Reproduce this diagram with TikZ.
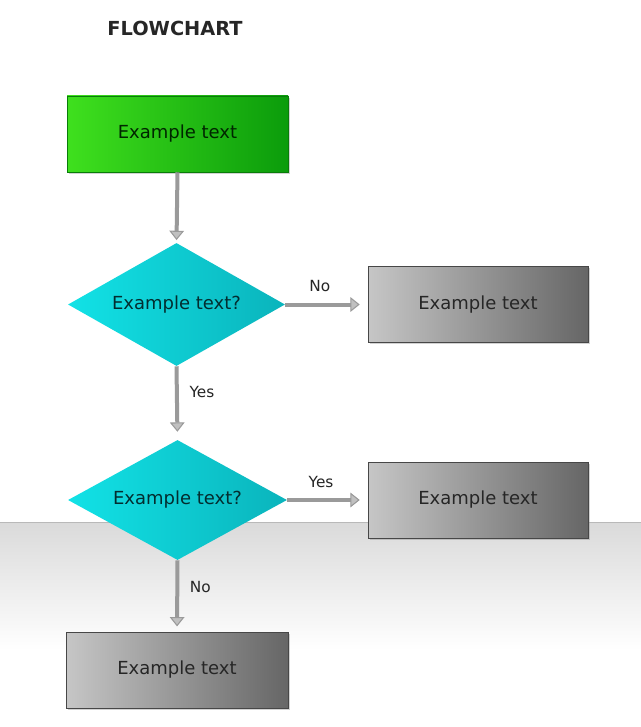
\documentclass[tikz,border=0pt]{standalone}
\usepackage{fontspec}
\setmainfont{DejaVu Sans}
\usetikzlibrary{shapes.geometric,arrows.meta,shadows}
\definecolor{greenL}{HTML}{3FE01E}
\definecolor{greenR}{HTML}{0B9C0B}
\definecolor{cyanL}{HTML}{12E2E6}
\definecolor{cyanR}{HTML}{0AB4BC}
\definecolor{grayL}{HTML}{C6C6C6}
\definecolor{grayM}{HTML}{9C9C9C}
\definecolor{grayR}{HTML}{666666}
\definecolor{arrowgray}{HTML}{9A9A9A}
\definecolor{tipgray}{HTML}{C0C0C0}
\definecolor{bandgray}{HTML}{DADADA}
\tikzset{
  boxbase/.style={rectangle, inner sep=0pt, font=\fontsize{13.5}{15}\selectfont,
    drop shadow={shadow xshift=1.2pt, shadow yshift=-1.2pt, opacity=0.35}},
  greenbox/.style={boxbase, left color=greenL, right color=greenR, draw=greenR!80!black, line width=0.4pt,
    minimum width=165.75pt, minimum height=57pt, text=black!85!green},
  graybox/.style={boxbase, left color=grayL, middle color=grayM, right color=grayR, draw=grayR!70!black, line width=0.4pt,
    minimum width=165pt, minimum height=57pt, text=black!85},
  decbox/.style={diamond, aspect=1.75, inner sep=0pt, left color=cyanL, right color=cyanR, draw=none},
  dectext/.style={font=\fontsize{13.5}{15}\selectfont, text=cyanR!25!black},
  flowarrow/.style={draw=arrowgray, line width=3pt,
    -{Triangle[width=11pt,length=7pt,line width=0.8pt,fill=tipgray]}},
  arrowlabel/.style={font=\fontsize{11.5}{13}\selectfont, text=black!85, inner sep=2pt},
}
\begin{document}
\begin{tikzpicture}[x=0.75pt,y=-0.75pt]
\useasboundingbox (0,0) rectangle (641,727);
\fill[white] (0,0) rectangle (641,727);
\shade[top color=bandgray, bottom color=white] (0,522) rectangle (641,650);
\draw[bandgray!85!black, line width=0.3pt] (0,522) -- (641,522);

\node[font=\bfseries\fontsize{14.5}{17}\selectfont, text=black!85] (title) at (175,28) {FLOWCHART};

\node[greenbox] (start) at (177.5,134) {Example text};

\node[decbox, minimum width=162.75pt, minimum height=92.25pt] (d1) at (176.5,304.5) {};
\node[dectext] (d1t) at (d1.center) {Example text?};

\node[graybox] (g1) at (478,304.5) {Example text};

\node[decbox, minimum width=164.25pt, minimum height=90pt] (d2) at (177.5,500) {};
\node[dectext] (d2t) at (d2.center) {Example text?};

\node[graybox] (g2) at (478,500) {Example text};

\node[graybox, minimum width=166.5pt] (g3) at (177,670) {Example text};

\draw[flowarrow, shorten >=2pt] (start.south) -- (d1.north);
\draw[flowarrow, shorten >=6pt] (d1.east) -- node[arrowlabel, above=6pt, pos=0.42] {No} (g1.west);
\draw[flowarrow, shorten >=6pt] (d1.south) -- node[arrowlabel, right=6pt, pos=0.35] {Yes} (d2.north);
\draw[flowarrow, shorten >=6pt] (d2.east) -- node[arrowlabel, above=6pt, pos=0.42] {Yes} (g2.west);
\draw[flowarrow, shorten >=4pt] (d2.south) -- node[arrowlabel, right=6pt, pos=0.38] {No} (g3.north);
\end{tikzpicture}
\end{document}
